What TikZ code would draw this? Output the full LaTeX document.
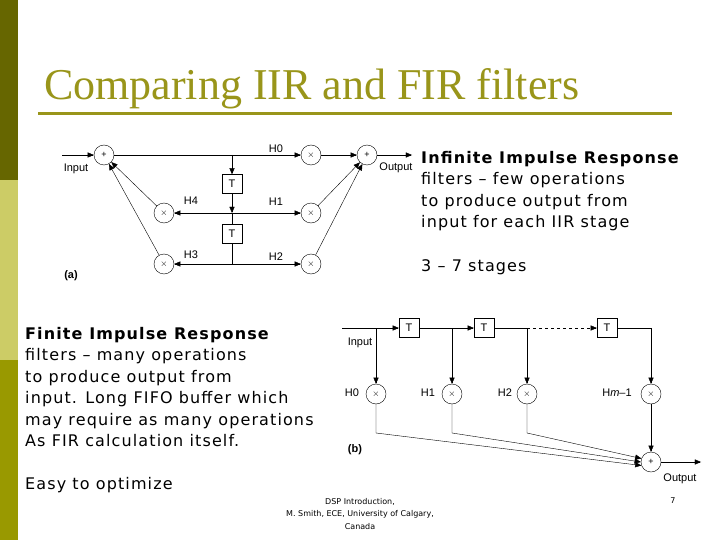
\documentclass[tikz,border=0pt]{standalone}
\usepackage{fontspec}
\setmainfont{DejaVu Sans}
\newfontfamily\bodyfont[LetterSpace=7]{DejaVu Sans}
\newfontfamily\titlefont{Liberation Serif}
\newfontfamily\diagfont{Liberation Sans}
\usetikzlibrary{arrows, positioning, calc}
\definecolor{olivedark}{HTML}{666600}
\definecolor{olivelight}{HTML}{CCCC66}
\definecolor{olivemid}{HTML}{999900}
\definecolor{titlecol}{HTML}{99951A}
\tikzstyle{op} = [circle, draw=black, minimum size=20pt, inner sep=0pt, font=\diagfont\fontsize{9}{9}\selectfont]
\tikzstyle{delay} = [rectangle, draw=black, minimum width=20pt, minimum height=19pt, inner sep=0pt, font=\diagfont\fontsize{11}{11}\selectfont]
\tikzstyle{lbl} = [font=\diagfont\fontsize{11}{11}\selectfont, inner sep=0pt]
\tikzstyle{arrow} = [->, >=triangle 45]
\tikzstyle{body} = [anchor=west, align=left, inner sep=0pt, font=\bodyfont\fontsize{16}{21.5}\selectfont]

\begin{document}
\begin{tikzpicture}[x=1pt, y=-1pt]
\useasboundingbox (0,0) rectangle (720,540);
% side bar and title
\fill[olivedark] (0,0) rectangle (18,180);
\fill[olivelight] (0,180) rectangle (18,360);
\fill[olivemid] (0,360) rectangle (18,540);
\node[anchor=base west, inner sep=0pt, text=titlecol, font=\titlefont\fontsize{44}{44}\selectfont] (title) at (44,100) {Comparing IIR and FIR filters};
\draw[titlecol, line width=3pt] (38,114) -- (672,114);

% (a) IIR
\node[op] (add1) at (104,155) {+};
\node[op] (m0) at (311,155) {$\times$};
\node[op] (add2) at (367,155) {+};
\node[delay] (t1) at (232,184) {T};
\node[delay] (t2) at (232,234) {T};
\node[op] (m4) at (164,213) {$\times$};
\node[op] (m1) at (311,213) {$\times$};
\node[op] (m3) at (164,264) {$\times$};
\node[op] (m2) at (311,264) {$\times$};
\coordinate (in) at (62,155);
\coordinate (out) at (412,155);
\coordinate (j0) at (232,155);
\coordinate (j1) at (232,213);
\coordinate (j2) at (232,264);
\draw[arrow] (in) -- (add1);
\draw[arrow] (add1) -- (m0);
\draw[arrow] (j0) -- (t1);
\draw[arrow] (t1) -- (j1);
\draw (t2) -- (j2);
\draw (j1) -- (t2);
\draw[arrow] (j1) -- (m4);
\draw[arrow] (j1) -- (m1);
\draw[arrow] (j2) -- (m3);
\draw[arrow] (j2) -- (m2);
\draw[arrow] (m0) -- (add2);
\draw[arrow] (m1) -- (add2);
\draw[arrow] (m2) -- (add2);
\draw[arrow] (m4) -- (add1);
\draw[arrow] (m3) -- (add1);
\draw[arrow] (add2) -- (out);
\node[lbl] (lin) at (76,169) {Input};
\node[lbl] (lout) at (396,168) {Output};
\node[lbl] (h0) at (276,149) {H0};
\node[lbl] (h4) at (191,201) {H4};
\node[lbl] (h1) at (276,202) {H1};
\node[lbl] (h3) at (191,255) {H3};
\node[lbl] (h2) at (276,257) {H2};
\node[lbl, font=\diagfont\bfseries\fontsize{11}{11}\selectfont] (la) at (71,276) {(a)};

% (b) FIR
\node[delay] (ft1) at (409,328) {T};
\node[delay] (ft2) at (484,328) {T};
\node[delay] (ft3) at (607,328) {T};
\node[op] (fm0) at (376,394) {$\times$};
\node[op] (fm1) at (452,394) {$\times$};
\node[op] (fm2) at (527,394) {$\times$};
\node[op] (fm3) at (651,394) {$\times$};
\node[op] (fadd) at (651,462) {+};
\coordinate (fin) at (342,328);
\coordinate (fk0) at (376,328);
\coordinate (fk1) at (452,328);
\coordinate (fk2) at (527,328);
\coordinate (fk3) at (651,328);
\coordinate (fout) at (701,462);
\draw[arrow] (fin) -- (ft1);
\draw[arrow] (fk0) -- (fm0);
\draw[arrow] (ft1) -- (ft2);
\draw[arrow] (fk1) -- (fm1);
\draw (ft2) -- (fk2);
\draw[arrow, dashed] (fk2) -- (ft3);
\draw[arrow] (fk2) -- (fm2);
\draw[arrow] (ft3.east) -- (fk3) -- (fm3);
\draw[arrow] (fm0) -- (376,433) -- (fadd.200);
\draw[arrow] (fm1) -- (452,433) -- (fadd.west);
\draw[arrow] (fm2) -- (527,433) -- (fadd.160);
\draw[arrow] (fm3) -- (fadd);
\draw[arrow] (fadd) -- (fout);
\node[lbl] (fl) at (360,343) {Input};
\node[lbl] (flo) at (680,479) {Output};
\node[lbl] (fh0) at (352,393) {H0};
\node[lbl] (fh1) at (428,393) {H1};
\node[lbl] (fh2) at (505,393) {H2};
\node[lbl] (fh3) at (617,393) {H\textit{m}–1};
\node[lbl, font=\diagfont\bfseries\fontsize{11}{11}\selectfont] (lb) at (355,450) {(b)};

% text
\node[body] (iirtxt) at (421,191) {\textbf{Infinite Impulse Response}\\filters – few operations\\to produce output from\\input for each IIR stage};
\node[body] (stages) at (421,267) {3 – 7 stages};
\node[body] (firtxt) at (25,387) {\textbf{Finite Impulse Response}\\filters – many operations\\to produce output from\\input. Long FIFO buffer which\\may require as many operations\\As FIR calculation itself.};
\node[body] (easy) at (25,485) {Easy to optimize};
\node[align=center, inner sep=0pt, font=\fontsize{8}{12.5}\selectfont] (foot) at (360,514) {DSP Introduction,\\M. Smith, ECE, University of Calgary,\\Canada};
\node[inner sep=0pt, font=\fontsize{8}{8}\selectfont] (pg) at (673,501) {7};
\end{tikzpicture}
\end{document}
